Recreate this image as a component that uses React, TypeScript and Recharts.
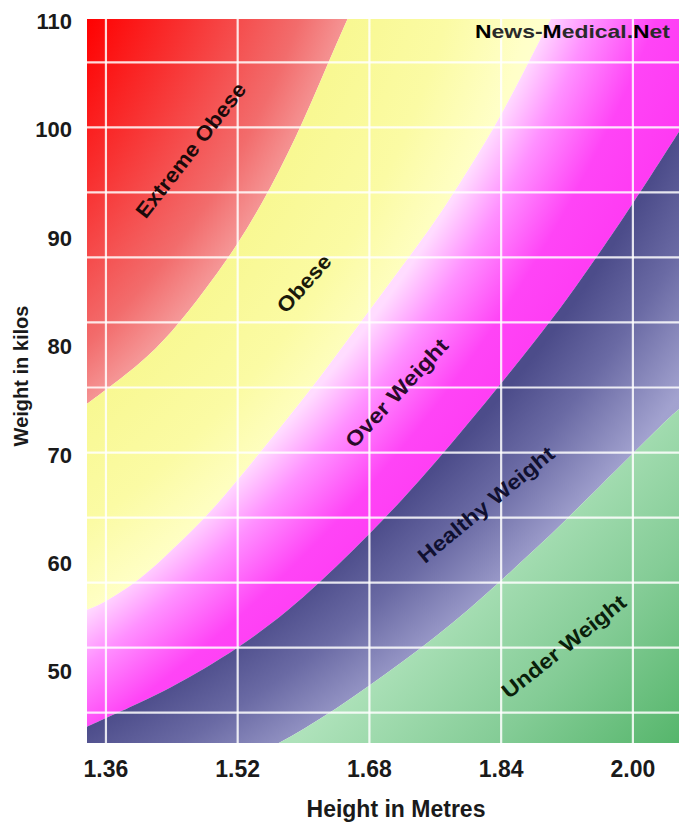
import React from 'react';
import { ComposedChart, Area, XAxis, YAxis, ReferenceLine, ReferenceDot } from 'recharts';

const heights = [1.337, 1.36, 1.4, 1.44, 1.48, 1.52, 1.56, 1.6, 1.64, 1.68, 1.72, 1.76, 1.8, 1.84, 1.88, 1.92, 1.96, 2.0, 2.04, 2.056];
// Lower weight (kg) of each band at those heights (values beyond the frame are clipped)
const extremeObeseFrom = [74.5, 75.8, 78.2, 81.2, 85.0, 89.3, 94.5, 100.7, 107.7, 114.5, 121.5, 128.5, 135.5, 142.5, 149.5, 156.5, 163.5, 170.5, 177.5, 180.5];
const obeseFrom = [55.5, 56.3, 58.3, 61.0, 64.0, 67.5, 71.2, 75.0, 79.0, 83.1, 87.2, 91.4, 96.1, 101.2, 107.0, 113.0, 119.5, 126.0, 132.5, 135.0];
const overWeightFrom = [44.7, 45.5, 46.9, 48.4, 50.1, 52.0, 54.2, 56.7, 59.5, 62.5, 65.7, 69.1, 72.7, 76.4, 80.2, 84.2, 88.5, 93.0, 97.7, 99.6];
const healthyFrom = [33.0, 34.2, 36.2, 38.1, 39.8, 41.3, 42.8, 44.5, 46.4, 48.5, 50.7, 53.0, 55.5, 58.2, 61.0, 63.9, 66.9, 69.9, 72.9, 74.0];

const xDomain = [1.337, 2.056];
const yDomain = [43.2, 110];
const xTicks = [1.36, 1.52, 1.68, 1.84, 2.0];
const yTicks = [50, 60, 70, 80, 90, 100, 110];
const gridWeights = [46, 52, 58, 64, 70, 76, 82, 88, 94, 100, 106];

const bandNames = ['Extreme Obese', 'Obese', 'Over Weight', 'Healthy Weight', 'Under Weight'];
const bandLabelHeights = [1.463, 1.6005, 1.713, 1.8215, 1.916];
const bandLabelWeights = [97.9, 85.6, 75.5, 65.2, 52.1];

// styles for the band labels
const labelAngles = [52, 48, 47, 39.5, 38.5];
const labelLengths = [165, 70, 140, 170, 152];
const labelColors = ['#1a0a0a', '#1a1a0a', '#2a0a2a', '#101030', '#0a200a'];

const FONT = '"Liberation Sans", Arial, Helvetica, sans-serif';

const data = heights.map((h, i) => ({
  h,
  red: [extremeObeseFrom[i], yDomain[1]],
  yellow: [obeseFrom[i], extremeObeseFrom[i]],
  magenta: [overWeightFrom[i], obeseFrom[i]],
  blue: [healthyFrom[i], overWeightFrom[i]],
  green: [yDomain[0], healthyFrom[i]],
}));

const XTick = (props: any) => (
  <text x={props.x} y={props.y + 34} textAnchor="middle" fontFamily={FONT} fontWeight="bold" fontSize={23} fill="#1a1a1a">
    {Number(props.payload.value).toFixed(2)}
  </text>
);

const YTick = (props: any) => (
  <text x={props.x} y={props.y + 10} textAnchor="end" fontFamily={FONT} fontWeight="bold" fontSize={22} fill="#1a1a1a">
    {props.payload.value}
  </text>
);

const XTitle = (props: any) => {
  const vb = props.viewBox || {};
  return (
    <text x={vb.x + vb.width / 2 + 13} y={vb.y + 74} textAnchor="middle" fontFamily={FONT} fontWeight="bold" fontSize={23} fill="#1a1a1a">
      Height in Metres
    </text>
  );
};

const YTitle = (props: any) => {
  const vb = props.viewBox || {};
  return (
    <text
      transform={`translate(${vb.x + 28},${vb.y + vb.height / 2 - 5}) rotate(-90)`}
      textAnchor="middle"
      fontFamily={FONT}
      fontWeight="bold"
      fontSize={20}
      fill="#1a1a1a"
    >
      Weight in kilos
    </text>
  );
};

const Watermark = (p: any) => (
  <text
    x={p.cx - 9}
    y={p.cy + 19}
    textAnchor="end"
    fontFamily={FONT}
    fontWeight="bold"
    fontSize={19}
    textLength={195}
    lengthAdjust="spacingAndGlyphs"
    fill="#2a2a2a"
  >
    <tspan fill="#000">N</tspan>ews-<tspan fill="#000">M</tspan>edical.<tspan fill="#000">N</tspan>et
  </text>
);

const makeLabel = (i: number) => (p: any) => (
  <text
    transform={`translate(${p.cx},${p.cy}) rotate(${-labelAngles[i]})`}
    textAnchor="middle"
    dy="0.35em"
    fontFamily={FONT}
    fontWeight="bold"
    fontSize={21}
    fill={labelColors[i]}
    textLength={labelLengths[i]}
    lengthAdjust="spacingAndGlyphs"
  >
    {bandNames[i]}
  </text>
);

const CURVE = 'natural';

export default function App() {
  return (
    <div style={{ position: 'absolute', left: 0, top: 0, background: '#fff' }}>
      <ComposedChart width={679} height={826} data={data} margin={{ top: 19, right: 0, bottom: 0, left: 0 }}>
        <defs>
          <radialGradient id="gRed" gradientUnits="userSpaceOnUse" cx={-465} cy={-249} r={900}>
            <stop offset={0.68} stopColor="#ff0000" />
            <stop offset={0.78} stopColor="#f83030" />
            <stop offset={0.9} stopColor="#f26c6c" />
            <stop offset={0.955} stopColor="#f59898" />
            <stop offset={1} stopColor="#f59898" />
          </radialGradient>
          <radialGradient id="gYellow" gradientUnits="userSpaceOnUse" cx={-465} cy={-249} r={1100}>
            <stop offset={0.778} stopColor="#f8f892" />
            <stop offset={0.864} stopColor="#fbfba4" />
            <stop offset={0.936} stopColor="#ffffc8" />
            <stop offset={1} stopColor="#ffffdc" />
          </radialGradient>
          <radialGradient id="gMagenta" gradientUnits="userSpaceOnUse" cx={-813} cy={-563} r={1700}>
            <stop offset={0.869} stopColor="#ffdcff" />
            <stop offset={0.895} stopColor="#ff90ff" />
            <stop offset={0.93} stopColor="#ff44f6" />
            <stop offset={1} stopColor="#ff30f0" />
          </radialGradient>
          <radialGradient id="gBlue" gradientUnits="userSpaceOnUse" cx={-558} cy={-505} r={1600}>
            <stop offset={0.869} stopColor="#4c4c8a" />
            <stop offset={0.906} stopColor="#6a6aa4" />
            <stop offset={0.956} stopColor="#a2a2cf" />
            <stop offset={1} stopColor="#a8a8d4" />
          </radialGradient>
          <linearGradient id="gGreen" gradientUnits="userSpaceOnUse" x1={470} y1={560} x2={679} y2={760}>
            <stop offset={0} stopColor="#aee2ba" />
            <stop offset={0.5} stopColor="#84cc96" />
            <stop offset={1} stopColor="#52b468" />
          </linearGradient>
        </defs>
        <XAxis
          type="number"
          dataKey="h"
          domain={xDomain}
          allowDataOverflow
          ticks={xTicks}
          axisLine={false}
          tickLine={false}
          tickSize={0}
          tickMargin={0}
          height={83}
          interval={0}
          tick={<XTick />}
          label={<XTitle />}
        />
        <YAxis
          type="number"
          domain={yDomain}
          allowDataOverflow
          ticks={yTicks}
          axisLine={false}
          tickLine={false}
          tickSize={0}
          tickMargin={15}
          width={87}
          interval={0}
          tick={<YTick />}
          label={<YTitle />}
        />
        <Area type={CURVE} dataKey="red" stroke="none" fill="url(#gRed)" fillOpacity={1} isAnimationActive={false} dot={false} activeDot={false} />
        <Area type={CURVE} dataKey="yellow" stroke="none" fill="url(#gYellow)" fillOpacity={1} isAnimationActive={false} dot={false} activeDot={false} />
        <Area type={CURVE} dataKey="magenta" stroke="none" fill="url(#gMagenta)" fillOpacity={1} isAnimationActive={false} dot={false} activeDot={false} />
        <Area type={CURVE} dataKey="blue" stroke="none" fill="url(#gBlue)" fillOpacity={1} isAnimationActive={false} dot={false} activeDot={false} />
        <Area type={CURVE} dataKey="green" stroke="none" fill="url(#gGreen)" fillOpacity={1} isAnimationActive={false} dot={false} activeDot={false} />
        {gridWeights.map((w) => (
          <ReferenceLine key={'h' + w} y={w} stroke="#ffffff" strokeOpacity={0.85} strokeWidth={2.2} />
        ))}
        {xTicks.map((h) => (
          <ReferenceLine key={'v' + h} x={h} stroke="#ffffff" strokeOpacity={0.85} strokeWidth={2.2} />
        ))}
        {bandNames.map((n, i) => (
          <ReferenceDot key={n} x={bandLabelHeights[i]} y={bandLabelWeights[i]} r={0} shape={makeLabel(i)} />
        ))}
        <ReferenceDot x={xDomain[1]} y={yDomain[1]} r={0} ifOverflow="visible" shape={Watermark} />
      </ComposedChart>
    </div>
  );
}
